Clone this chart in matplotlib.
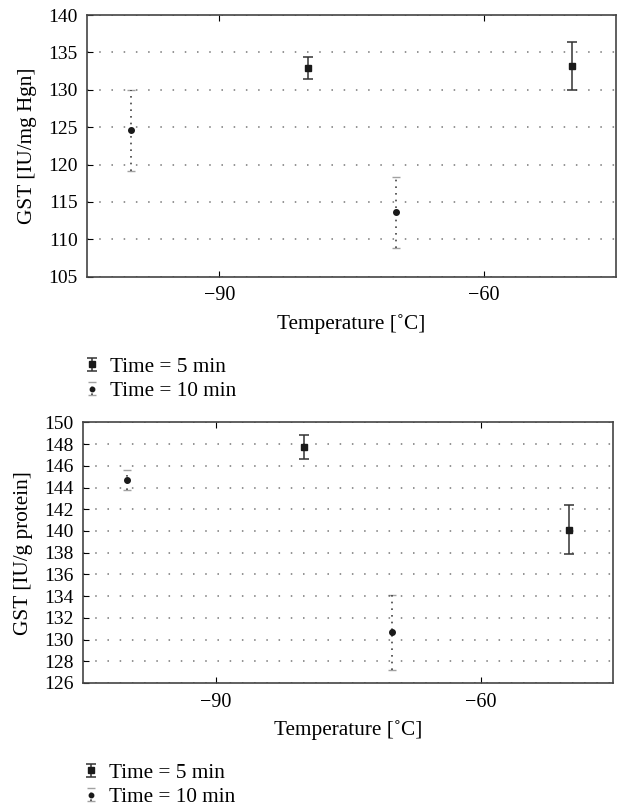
import matplotlib
matplotlib.use("Agg")
import matplotlib.pyplot as plt
from matplotlib.legend_handler import HandlerErrorbar

plt.rcParams['font.family'] = ['Liberation Serif', 'DejaVu Serif']
plt.rcParams['font.size'] = 15.3

# temperatures
temp_5 = [-80, -50]
temp_10 = [-100, -70]

# GST per mg Hgn
hgn_5 = [132.9, 133.2]
hgn_5_err = [1.5, 3.2]
hgn_10 = [124.6, 113.6]
hgn_10_err = [5.4, 4.7]

# GST per g protein
prot_5 = [147.7, 140.1]
prot_5_err = [1.1, 2.25]
prot_10 = [144.7, 130.65]
prot_10_err = [0.9, 3.45]

x_ticks = [-90, -60]
ink = '#1a1a1a'


def draw_panel(ax, y5, e5, y10, e10, ylabel, ylim, yticks):
    eb5 = ax.errorbar(temp_5, y5, yerr=e5, fmt='s', ms=5, color=ink,
                      ecolor='#333333', elinewidth=1.1, capsize=3.6, capthick=1.1,
                      label='Time = 5 min', zorder=3)
    eb10 = ax.errorbar(temp_10, y10, yerr=e10, fmt='o', ms=4, color=ink,
                       ecolor='#444444', elinewidth=1.2, capsize=3, capthick=1.0,
                       label='Time = 10 min', zorder=3)
    eb10[2][0].set_linestyle((0, (1, 3)))
    for cap in eb10[1]:
        cap.set_alpha(0.5)

    ax.set_xlim(-105, -45)
    ax.set_ylim(*ylim)
    ax.set_xticks(x_ticks)
    ax.set_yticks(yticks)
    ax.grid(axis='y', linestyle=(0, (1, 7)), color='#777777', linewidth=1.1)
    ax.tick_params(axis='x', direction='in', top=True, length=4, pad=7, labelsize=14.5)
    ax.tick_params(axis='y', direction='in', length=4, pad=7, labelsize=14)
    for s in ax.spines.values():
        s.set_color('#444444')
        s.set_linewidth(1.2)
    ax.set_xlabel('Temperature [˚C]', labelpad=6)
    ax.set_ylabel(ylabel, labelpad=8)
    return eb5, eb10


def add_legend(handles, y_px, x_frac):
    leg = fig.legend(handles, ['Time = 5 min', 'Time = 10 min'], loc='upper left',
                     bbox_to_anchor=(x_frac, 1 - y_px / 807), frameon=False,
                     handlelength=0.9, handletextpad=0.4, labelspacing=0.2,
                     borderaxespad=0, borderpad=0, markerscale=0.8,
                     handler_map={type(handles[0]): HandlerErrorbar(xerr_size=0.3, yerr_size=0.32)})
    return leg


fig = plt.figure(figsize=(6.18, 8.07), dpi=100)

ax1 = fig.add_axes([0.1413, 0.6571, 0.8555, 0.3243])
h = draw_panel(ax1, hgn_5, hgn_5_err, hgn_10, hgn_10_err,
               'GST [IU/mg Hgn]', (105, 140), list(range(105, 141, 5)))
add_legend(h, 357, 0.133)

ax2 = fig.add_axes([0.1348, 0.1537, 0.857, 0.3229])
h = draw_panel(ax2, prot_5, prot_5_err, prot_10, prot_10_err,
               'GST [IU/g protein]', (126, 150), list(range(126, 151, 2)))
add_legend(h, 763, 0.131)

fig.savefig('out.png', dpi=100)
